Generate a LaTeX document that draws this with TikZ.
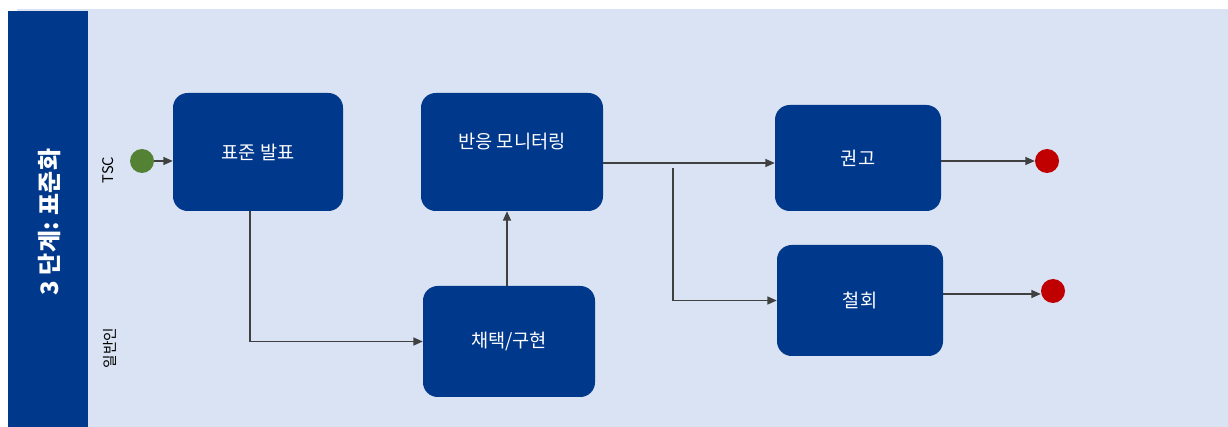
\documentclass[tikz,border=0pt]{standalone}
\usepackage{fontspec}
\setmainfont{Noto Sans CJK KR}
\usetikzlibrary{arrows.meta,calc}
\definecolor{lane}{HTML}{DAE3F3}
\definecolor{navy}{HTML}{00388C}
\definecolor{startg}{HTML}{548235}
\definecolor{endr}{HTML}{C00000}
\definecolor{conn}{HTML}{404040}
\begin{document}
\begin{tikzpicture}[x=0.75pt,y=-0.75pt,
  task/.style={fill=navy, draw=none, rounded corners=11pt, inner sep=0pt,
    text=white, font=\fontsize{14}{17}\selectfont},
  tasktext/.style={text=white, font=\fontsize{14}{17}\selectfont, inner sep=0pt},
  startev/.style={circle, fill=startg, draw=none, minimum size=18pt, inner sep=0pt},
  endev/.style={circle, fill=endr, draw=none, minimum size=18pt, inner sep=0pt},
  flow/.style={draw=conn, line width=0.9pt, -{Triangle[length=7pt,width=6pt]}},
  lanelabel/.style={rotate=90, font=\fontsize{11}{13}\selectfont, text=black, inner sep=0pt}
]
\useasboundingbox (0,0) rectangle (1228,427);
\fill[white] (0,0) rectangle (1228,427);
\fill[lane] (17,9) rectangle (1228,427);
\fill[navy] (8,11) rectangle (88,427);
\node[rotate=90, text=white, font=\bfseries\fontsize{18}{21}\selectfont] (title) at (50,222) {3 단계: 표준화};
\node[lanelabel] (tsc) at (108,170) {TSC};
\node[lanelabel] (pub) at (110,348) {일반인};

\node[task, minimum width=127.5pt, minimum height=88.5pt] (std) at (258,152) {표준 발표};
\node[task, minimum width=136.5pt, minimum height=88.5pt] (mon) at (512,152) {};
\node[tasktext] (montext) at (512,142) {반응 모니터링};
\node[task, minimum width=129pt, minimum height=83.25pt] (adopt) at (509,341.5) {채택/구현};
\node[task, minimum width=124.5pt, minimum height=79.5pt] (rec) at (858,158) {권고};
\node[task, minimum width=124.5pt, minimum height=83.25pt] (wd) at (860,300.5) {철회};

\node[startev] (start) at (142,161) {};
\node[endev] (end1) at (1047,161) {};
\node[endev] (end2) at (1053,291) {};

\coordinate (br) at (673,168);
\coordinate (monout) at ($(mon.east)+(0,11)$);
\coordinate (wdout) at ($(wd.east)+(0,-6.5)$);
\coordinate (adoptout) at ($(adopt.north)+(-2,0)$);

\draw[flow] (start.east) -- (std.west |- start);
\draw[flow] ([xshift=-6pt]std.south) |- (adopt.west);
\draw[flow] (adoptout) -- (adoptout |- mon.south);
\draw[flow] (monout) -- (rec.west |- monout);
\draw[flow] (br) |- (wd.west);
\draw[flow] (rec.east |- end1) -- (end1.west);
\draw[flow] (wdout) -- (end2.west |- wdout);
\end{tikzpicture}
\end{document}
